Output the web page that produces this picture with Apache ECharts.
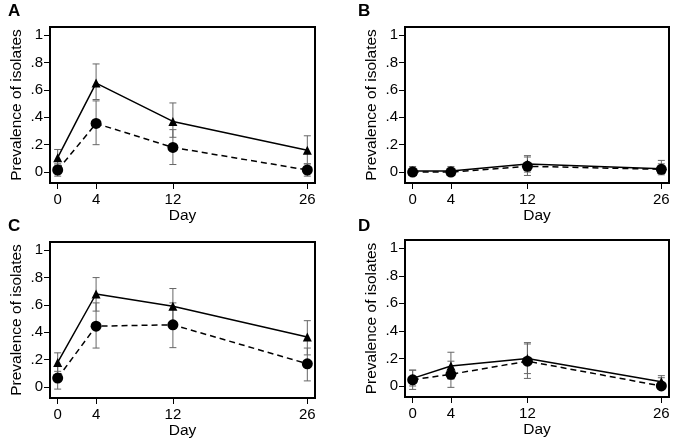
<!DOCTYPE html>
<html>
<head>
<meta charset="utf-8">
<script src="https://cdn.jsdelivr.net/npm/echarts@6/dist/echarts.min.js"></script>
<style>html,body{margin:0;padding:0;background:#fff}#c{width:675px;height:442px}</style>
</head>
<body>
<div id="c"></div>
<script>
const days = [0, 4, 12, 26];
const yTicks = [0, 0.2, 0.4, 0.6, 0.8, 1];
const panelLabels = ['A', 'B', 'C', 'D'];

const aTri = [0.105, 0.65, 0.37, 0.16];
const aTriLow = [0.05, 0.53, 0.254, 0.06];
const aTriHigh = [0.165, 0.79, 0.505, 0.265];
const aCir = [0.015, 0.355, 0.18, 0.015];
const aCirLow = [-0.03, 0.20, 0.055, -0.03];
const aCirHigh = [0.06, 0.52, 0.31, 0.06];

const bTri = [0.008, 0.008, 0.058, 0.025];
const bTriLow = [-0.015, -0.015, 0.0, -0.01];
const bTriHigh = [0.04, 0.04, 0.12, 0.085];
const bCir = [0.0, 0.0, 0.042, 0.02];
const bCirLow = [-0.02, -0.02, -0.025, -0.02];
const bCirHigh = [0.03, 0.03, 0.11, 0.06];

const cTri = [0.18, 0.68, 0.59, 0.365];
const cTriLow = [0.115, 0.555, 0.46, 0.235];
const cTriHigh = [0.25, 0.80, 0.72, 0.485];
const cCir = [0.066, 0.445, 0.455, 0.17];
const cCirLow = [-0.015, 0.285, 0.288, 0.045];
const cCirHigh = [0.15, 0.615, 0.615, 0.285];

const dTri = [0.055, 0.145, 0.2, 0.03];
const dTriLow = [0.0, 0.05, 0.09, -0.01];
const dTriHigh = [0.115, 0.245, 0.315, 0.075];
const dCir = [0.045, 0.085, 0.18, 0.0];
const dCirLow = [-0.025, -0.01, 0.055, -0.02];
const dCirHigh = [0.115, 0.18, 0.305, 0.06];

const panels = [
  {tri: aTri, triLow: aTriLow, triHigh: aTriHigh, cir: aCir, cirLow: aCirLow, cirHigh: aCirHigh},
  {tri: bTri, triLow: bTriLow, triHigh: bTriHigh, cir: bCir, cirLow: bCirLow, cirHigh: bCirHigh},
  {tri: cTri, triLow: cTriLow, triHigh: cTriHigh, cir: cCir, cirLow: cCirLow, cirHigh: cCirHigh},
  {tri: dTri, triLow: dTriLow, triHigh: dTriHigh, cir: dCir, cirLow: dCirLow, cirHigh: dCirHigh}
];

const grids = [
  {left: 50, top: 27, width: 265, height: 156},
  {left: 405, top: 27, width: 264, height: 156},
  {left: 50, top: 242, width: 265, height: 156},
  {left: 405, top: 240, width: 264, height: 157}
];
const letterPos = [[8, 3], [358, 3], [8, 218], [358, 218]];

const FONT = '"Liberation Sans", Arial, sans-serif';

const grid = grids.map(g => Object.assign({show: true, borderColor: '#000', borderWidth: 2, backgroundColor: '#fff'}, g));
const xAxis = grids.map((g, i) => ({
  type: 'value', gridIndex: i, min: -0.8, max: 26.8,
  name: 'Day', nameLocation: 'middle', nameGap: 24,
  nameTextStyle: {fontFamily: FONT, fontSize: 15.5, color: '#000'},
  axisLine: {show: true, onZero: false, lineStyle: {color: '#000', width: 2}},
  axisTick: {show: true, length: 6, customValues: days, lineStyle: {color: '#000', width: 1}},
  axisLabel: {customValues: days, margin: 9, fontFamily: FONT, fontSize: 15, color: '#000'},
  splitLine: {show: false}
}));
const yAxis = grids.map((g, i) => ({
  type: 'value', gridIndex: i, min: -0.08, max: 1.06,
  name: 'Prevalence of isolates', nameLocation: 'middle', nameGap: 25,
  nameTextStyle: {fontFamily: FONT, fontSize: 15.5, color: '#000'},
  axisLine: {show: true, onZero: false, lineStyle: {color: '#000', width: 2}},
  axisTick: {show: true, length: 6, customValues: yTicks, lineStyle: {color: '#000', width: 1}},
  axisLabel: {customValues: yTicks, margin: 7, fontFamily: FONT, fontSize: 15, color: '#000',
    formatter: v => {
      if (Math.abs(v) < 1e-9) return '0';
      if (Math.abs(v - 1) < 1e-9) return '1';
      return String(Math.round(v * 10) / 10).replace(/^0/, '');
    }},
  splitLine: {show: false}
}));

function errSeries(i, low, high) {
  return {
    type: 'custom', xAxisIndex: i, yAxisIndex: i, z: 2, silent: true,
    data: days.map((d, k) => [d, low[k], high[k]]),
    renderItem: (params, api) => {
      const lo = api.coord([api.value(0), api.value(1)]);
      const hi = api.coord([api.value(0), api.value(2)]);
      const w = 3.5;
      const st = {stroke: '#666', lineWidth: 1, fill: null};
      return {type: 'group', children: [
        {type: 'line', shape: {x1: lo[0], y1: lo[1], x2: hi[0], y2: hi[1]}, style: st},
        {type: 'line', shape: {x1: lo[0] - w, y1: lo[1], x2: lo[0] + w, y2: lo[1]}, style: st},
        {type: 'line', shape: {x1: hi[0] - w, y1: hi[1], x2: hi[0] + w, y2: hi[1]}, style: st}
      ]};
    }
  };
}

const series = [];
panels.forEach((p, i) => {
  series.push(errSeries(i, p.triLow, p.triHigh));
  series.push(errSeries(i, p.cirLow, p.cirHigh));
  series.push({
    type: 'line', xAxisIndex: i, yAxisIndex: i, z: 3, silent: true, animation: false,
    data: days.map((d, k) => [d, p.tri[k]]),
    symbol: 'triangle', symbolSize: 9,
    lineStyle: {color: '#000', width: 1.5, type: 'solid'},
    itemStyle: {color: '#000'}
  });
  series.push({
    type: 'line', xAxisIndex: i, yAxisIndex: i, z: 3, silent: true, animation: false,
    data: days.map((d, k) => [d, p.cir[k]]),
    symbol: 'circle', symbolSize: 11,
    lineStyle: {color: '#000', width: 1.5, type: [6, 4]},
    itemStyle: {color: '#000'}
  });
});

const graphic = panelLabels.map((t, i) => ({
  type: 'text', left: letterPos[i][0], top: letterPos[i][1],
  style: {text: t, font: 'bold 17px "Liberation Sans", Arial, sans-serif', fill: '#000'}
}));

const chart = echarts.init(document.getElementById('c'), null, {renderer: 'canvas'});
chart.setOption({animation: false, grid, xAxis, yAxis, series, graphic});
</script>
</body>
</html>
